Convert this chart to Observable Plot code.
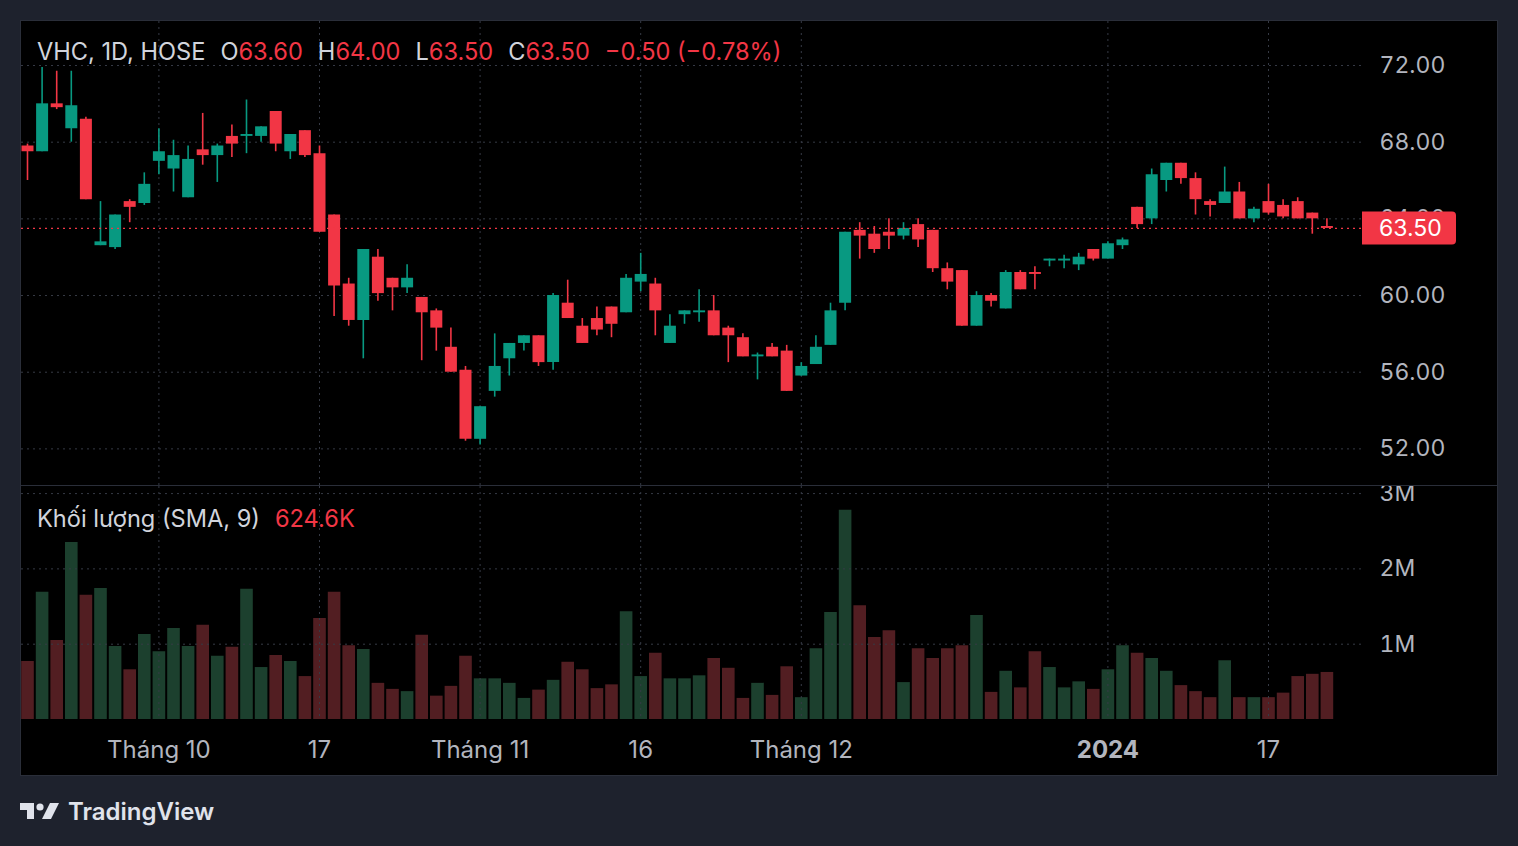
<!DOCTYPE html>
<html><head><meta charset="utf-8">
<script src="https://cdn.jsdelivr.net/npm/d3@7"></script>
<script src="https://cdn.jsdelivr.net/npm/@observablehq/plot@0.6"></script>
<style>
html,body{margin:0;padding:0;background:#1e222d;width:1518px;height:846px;overflow:hidden;font-family:Inter,"Noto Sans",sans-serif;}
#panel{position:absolute;left:20px;top:20px;width:1476px;height:754px;background:#000;border:1px solid #2a2e39;}
#price{position:absolute;left:0;top:0;width:1476px;height:464px;overflow:hidden;}
#sep{position:absolute;left:0;top:464px;width:1476px;height:1px;background:#2a2e39;}
#vol{position:absolute;left:0;top:465px;width:1476px;height:289px;overflow:hidden;}
.legend{position:absolute;left:16px;font-size:23.6px;color:#d1d4dc;white-space:pre;line-height:24px;}
.legend .r{color:#f23645;}
.legend .gap{margin-left:15px;}
#logo{position:absolute;left:20px;top:798px;height:26px;display:flex;align-items:center;color:#e0e3eb;font-size:24px;font-weight:600;}
</style></head>
<body>
<div id="panel">
  <div id="price"></div>
  <div id="sep"></div>
  <div id="vol"></div>
  <div class="legend" id="hdr" style="top:19px"></div>
  <div class="legend" id="vlab" style="top:486px"></div>
</div>
<div id="logo"><svg width="40" height="20" viewBox="0 0 40 20"><path d="M0 2h14v16h-7v-9h-7z" fill="#e0e3eb"/><circle cx="20" cy="6" r="3.6" fill="#e0e3eb"/><path d="M30 2h9l-8 16h-9z" fill="#e0e3eb"/></svg><span style="margin-left:8px">TradingView</span></div>
<script>
// ---- data ----
const symbol = "VHC, 1D, HOSE";
const opens = [67.8,67.5,70.0,68.7,69.2,62.6,62.5,64.9,64.8,67.0, 66.6,65.1,67.6,67.3,68.3,68.3,68.3,69.6,67.5,68.6,
  67.4,64.2,60.6,58.7,62.0,60.9,60.4,59.9,59.2,57.3, 56.1,52.5,55.0,56.7,57.5,57.9,56.5,59.6,58.4,58.8,
  59.4,59.1,60.7,60.6,57.5,59.0,59.1,59.2,58.3,57.8, 56.8,57.3,57.1,55.8,56.4,57.4,59.6,63.4,63.2,63.3,
  63.1,63.7,63.4,61.4,61.3,58.4,60.0,59.3,61.2,61.2, 61.8,61.8,61.6,62.4,61.9,62.6,64.6,64.0,66.0,66.9,
  66.1,64.9,64.8,65.4,64.0,64.9,64.7,64.9,64.3,63.6];
const highs = [67.9,71.9,71.7,71.7,69.3,64.9,64.2,65.0,66.4,68.7, 68.1,67.8,69.5,67.9,68.9,70.2,68.8,69.6,68.4,68.6,
  67.8,64.2,60.9,62.4,62.4,60.9,61.6,59.9,59.3,58.3, 56.3,54.2,58.0,57.5,57.9,57.9,60.1,60.8,58.8,59.4,
  59.4,61.1,62.2,60.9,59.0,59.2,60.3,60.0,58.4,58.0, 57.0,57.5,57.4,56.5,57.9,59.6,63.3,63.8,63.6,64.0,
  63.8,64.0,63.4,61.7,61.3,60.2,60.1,61.3,61.3,61.5, 61.9,62.1,62.2,62.4,62.8,63.0,64.6,66.6,66.9,66.9,
  66.4,65.0,66.7,65.9,64.6,65.8,65.0,65.1,64.3,64.0];
const lows = [66.0,67.5,69.7,68.0,65.0,62.6,62.4,63.8,64.7,66.3, 65.4,65.1,66.8,65.9,67.2,67.4,68.0,67.5,67.1,67.2,
  63.3,58.9,58.4,56.7,59.7,59.2,60.1,56.6,57.1,56.0, 52.4,52.2,54.7,55.8,57.1,56.3,56.1,58.8,57.5,57.9,
  57.8,59.1,60.2,57.9,57.5,58.5,58.6,57.9,56.5,56.8, 55.6,56.8,55.0,55.8,56.4,57.4,59.2,61.9,62.2,62.4,
  62.9,62.5,61.2,60.3,58.4,58.4,59.4,59.3,60.3,60.3, 61.5,61.4,61.3,61.8,61.9,62.4,63.5,63.7,65.4,65.8,
  64.2,64.1,64.8,64.0,63.8,64.2,64.0,64.0,63.2,63.5];
const closes = [67.5,70.0,69.8,69.9,65.0,62.8,64.2,64.6,65.8,67.5, 67.3,67.1,67.3,67.8,67.9,68.4,68.8,67.9,68.4,67.3,
  63.3,60.5,58.7,62.4,60.1,60.4,60.9,59.1,58.3,56.0, 52.5,54.2,56.3,57.5,57.9,56.5,60.0,58.8,57.5,58.2,
  58.5,60.9,61.1,59.2,58.4,59.2,59.2,57.9,57.9,56.8, 56.9,56.8,55.0,56.3,57.3,59.2,63.3,63.1,62.4,63.1,
  63.5,62.9,61.4,60.7,58.4,60.0,59.7,61.2,60.3,61.1, 61.9,61.9,62.0,61.9,62.7,62.9,63.7,66.3,66.9,66.1,
  65.0,64.7,65.4,64.0,64.5,64.3,64.1,64.0,64.0,63.5];
const volumesM = [0.77,1.69,1.05,2.35,1.65,1.74,0.97,0.66,1.13,0.90, 1.21,0.97,1.25,0.84,0.96,1.73,0.69,0.85,0.77,0.57,
  1.34,1.69,0.98,0.93,0.48,0.40,0.37,1.12,0.31,0.44, 0.84,0.54,0.54,0.48,0.28,0.39,0.52,0.76,0.66,0.41,
  0.46,1.43,0.57,0.88,0.54,0.54,0.58,0.81,0.68,0.28, 0.48,0.32,0.70,0.29,0.94,1.42,2.78,1.51,1.09,1.18,
  0.49,0.94,0.81,0.94,0.98,1.38,0.36,0.64,0.42,0.90, 0.69,0.42,0.50,0.40,0.66,0.98,0.88,0.81,0.64,0.45,
  0.37,0.29,0.78,0.29,0.29,0.29,0.35,0.57,0.60,0.6246];
const priceTicks = [52, 56, 60, 64, 68, 72];
const volTicks = [1e6, 2e6, 3e6];
const dateTickIdx = [9, 20, 31, 42, 53, 74, 85];
const dateTickLabels = ["Tháng 10", "17", "Tháng 11", "16", "Tháng 12", "2024", "17"];
const dateTickBold = [false, false, false, false, false, true, false];

// ---- build ----
const FONT = 'Inter, "Noto Sans", sans-serif';
const UP = "#089981", DOWN = "#f23645";
const VUP = "rgba(38,86,62,0.75)", VDOWN = "rgba(110,40,45,0.75)";
const GRID = "#363a45";
const candles = opens.map((o, i) => ({i, open: o, high: highs[i], low: lows[i], close: closes[i], vol: volumesM[i] * 1e6}));
const col = d => d.close >= d.open ? UP : DOWN;
const xDomain = [-0.411, 91.438];
const n = candles.length;
const last = candles[n - 1], prev = candles[n - 2];
const fmt = v => v.toFixed(2);
const minus = s => s.replace("-", "\u2212");

const ticks = dateTickIdx.map((i, k) => ({i, label: dateTickLabels[k], bold: dateTickBold[k]}));

const priceChart = Plot.plot({
  width: 1476, height: 464, marginLeft: 0, marginRight: 135, marginTop: 0, marginBottom: 0,
  x: {domain: xDomain, axis: null},
  y: {domain: [50.09, 74.295], axis: null},
  color: {type: "identity"},
  style: {background: "transparent", color: "#b2b5be", fontFamily: FONT, fontSize: "23px"},
  marks: [
    Plot.ruleY(priceTicks, {stroke: GRID, strokeDasharray: "2,4"}),
    Plot.ruleX(dateTickIdx, {stroke: GRID, strokeDasharray: "2,4"}),
    Plot.axisY(priceTicks, {anchor: "right", label: null, tickSize: 0, tickPadding: 17, tickFormat: fmt, fontSize: 23, fill: "#b2b5be"}),
    Plot.ruleX(candles, {x: "i", y1: "low", y2: "high", stroke: col, strokeWidth: 1.6}),
    Plot.ruleX(candles, {x: "i", y1: "open", y2: "close", stroke: col, strokeWidth: 12}),
    Plot.ruleY([last.close], {stroke: DOWN, strokeDasharray: "2,4", strokeWidth: 1.3})
  ]
});
document.getElementById("price").appendChild(priceChart);

// last price label box
{
  const ys = priceChart.scale("y");
  const yc = ys.apply(last.close);
  const x0 = 1341, w = 94, h = 33, r = 4;
  const svg = d3.select(priceChart);
  svg.append("path")
    .attr("d", `M${x0},${yc - h/2}h${w - r}a${r},${r} 0 0 1 ${r},${r}v${h - 2*r}a${r},${r} 0 0 1 ${-r},${r}h${-(w - r)}z`)
    .attr("fill", last.close >= last.open ? UP : DOWN);
  svg.append("text").attr("x", 1358).attr("y", yc).attr("dy", "0.36em")
    .attr("text-anchor", "start").attr("fill", "#fff").attr("font-size", 23)
    .attr("font-family", FONT).text(fmt(last.close));
}

const volChart = Plot.plot({
  width: 1476, height: 289, marginLeft: 0, marginRight: 135, marginTop: 0, marginBottom: 56,
  x: {domain: xDomain, axis: null},
  y: {domain: [0, 3.094e6], axis: null},
  color: {type: "identity"},
  style: {background: "transparent", color: "#b2b5be", fontFamily: FONT, fontSize: "23px"},
  marks: [
    Plot.ruleX(candles, {x: "i", y1: 0, y2: "vol", stroke: d => d.close >= d.open ? VUP : VDOWN, strokeWidth: 12.6}),
    Plot.ruleY(volTicks, {stroke: GRID, strokeDasharray: "2,4"}),
    Plot.ruleX(dateTickIdx, {stroke: GRID, strokeDasharray: "2,4"}),
    Plot.axisY(volTicks, {anchor: "right", label: null, tickSize: 0, tickPadding: 17, tickFormat: d => (d / 1e6) + "M", fontSize: 23, fill: "#b2b5be"}),
    Plot.text(ticks.filter(d => !d.bold), {x: "i", text: "label", frameAnchor: "bottom", lineAnchor: "middle", dy: 31, fontSize: 24, fill: "#b2b5be"}),
    Plot.text(ticks.filter(d => d.bold), {x: "i", text: "label", frameAnchor: "bottom", lineAnchor: "middle", dy: 31, fontSize: 24, fontWeight: "bold", fill: "#b2b5be"})
  ]
});
document.getElementById("vol").appendChild(volChart);

// legends
const chg = last.close - prev.close;
const pct = chg / prev.close * 100;
document.getElementById("hdr").innerHTML =
  `<span>${symbol}</span>` +
  `<span class="gap">O<span class="r">${fmt(last.open)}</span></span>` +
  `<span class="gap">H<span class="r">${fmt(last.high)}</span></span>` +
  `<span class="gap">L<span class="r">${fmt(last.low)}</span></span>` +
  `<span class="gap">C<span class="r">${fmt(last.close)}</span></span>` +
  `<span class="gap r">${minus(chg.toFixed(2))} (${minus(pct.toFixed(2))}%)</span>`;
document.getElementById("vlab").innerHTML =
  `<span>Khối lượng (SMA, 9)</span><span class="gap r">${(last.vol / 1000).toFixed(1)}K</span>`;
</script>
</body></html>
